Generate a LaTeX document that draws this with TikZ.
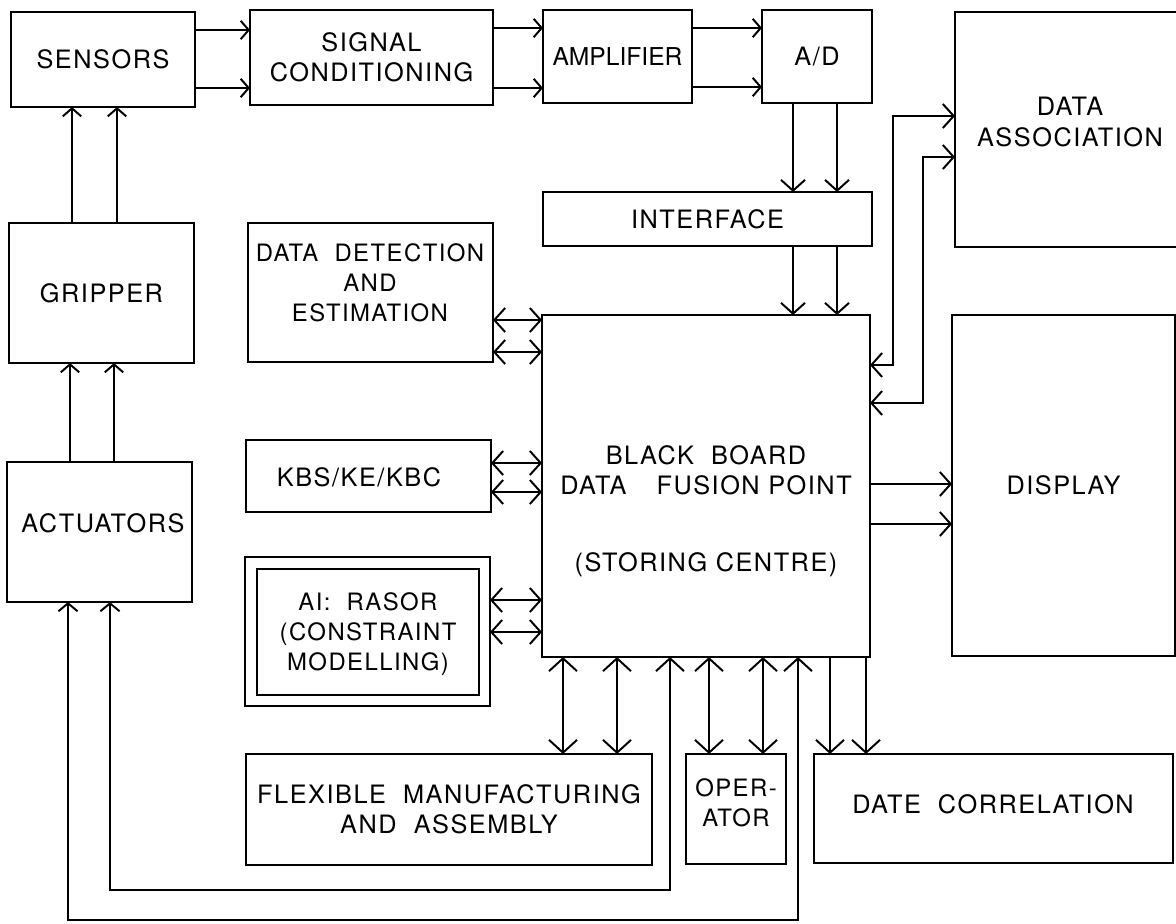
\documentclass[tikz,border=0pt]{standalone}
\usepackage{fontspec}
\setmainfont{TeX Gyre Heros}[LetterSpace=6]
\usetikzlibrary{arrows.meta}
\newcommand{\dfont}{\fontsize{18pt}{21.5pt}\selectfont}
\newcommand{\sfnt}{\fontsize{17pt}{21.5pt}\selectfont}
\newcommand{\afnt}{\fontsize{17.5pt}{21.5pt}\selectfont\addfontfeature{LetterSpace=0}}
\begin{document}
\begin{tikzpicture}[x=0.025cm,y=-0.025cm,
  boxat/.style n args={4}{minimum width={(#3-#1)*0.025cm}, minimum height={(#4-#2)*0.025cm}, at={({(#1+#3)/2},{(#2+#4)/2})}},
  box/.style={draw, line width=1.9pt, inner sep=0pt, outer sep=0pt, align=center, font=\dfont},
  txt/.style={inner sep=0pt, align=center, font=\dfont},
  ln/.style={line width=1.4pt},
  aS/.style={ln, -{Straight Barb[length=2mm,width=4.6mm]}},
  aM/.style={ln, -{Straight Barb[length=2.7mm,width=6mm]}},
  aMb/.style={ln, {Straight Barb[length=2.7mm,width=6mm]}-{Straight Barb[length=2.7mm,width=6mm]}},
  aL/.style={ln, -{Straight Barb[length=3.2mm,width=7mm]}},
  aLb/.style={ln, {Straight Barb[length=3.2mm,width=7mm]}-{Straight Barb[length=3.2mm,width=7mm]}},
  fb/.style={ln, {Straight Barb[length=3.2mm,width=7mm]}-{Straight Barb[length=2mm,width=4.8mm]}}
]
\useasboundingbox (0,0) rectangle (1176,923);
% boxes
\node[box, boxat={11}{12}{195}{107}] (sensors) {SENSORS};
\node[box, boxat={250}{10}{493}{105}] (sig) {SIGNAL\\CONDITIONING};
\node[box, boxat={543}{10}{692}{103}, font=\afnt] (amp) {AMPLIFIER};
\node[box, boxat={762}{10}{872}{103}] (ad) {A/D};
\node[box, boxat={955}{12}{1190}{247}] (da) {};
\node[txt] (datxt) at (1070,122) {DATA\\ASSOCIATION};
\node[box, boxat={543}{192}{872}{246}] (iface) {INTERFACE};
\node[box, boxat={248}{223}{493}{362}] (dd) {};
\node[txt, font=\sfnt] (ddtxt) at (370,283) {DATA\ \ DETECTION\\AND\\ESTIMATION};
\node[box, boxat={9}{223}{194}{363}] (grip) {GRIPPER};
\node[box, boxat={7}{462}{192}{602}] (act) {};
\node[txt] (acttxt) at (103,523) {ACTUATORS};
\node[box, boxat={246}{440}{491}{512}] (kbs) {};
\node[txt] (kbstxt) at (359,477) {KBS/KE/KBC};
\node[box, boxat={245}{557}{490}{706}] (ai) {};
\node[box, boxat={257}{569}{479}{695}] (aiin) {};
\node[txt, font=\sfnt] (aitxt) at (368,634) {AI:\ \ RASOR\\(CONSTRAINT\\MODELLING)};
\node[box, boxat={542}{315}{870}{657}] (bb) {};
\node[txt] (bbtxt) at (706,511) {BLACK\ \ BOARD\\DATA\hspace{0.75cm}FUSION POINT\\[33pt](STORING\ CENTRE)};
\node[box, boxat={952}{315}{1175}{656}] (disp) {DISPLAY};
\node[box, boxat={246}{754}{652}{865}] (flex) {FLEXIBLE\ \ MANUFACTURING\\AND\ \ ASSEMBLY};
\node[box, boxat={686}{754}{786}{864}] (op) {};
\node[txt, font=\sfnt] (optxt) at (736,803) {OPER-\\ATOR};
\node[box, boxat={814}{754}{1173}{863}] (dc) {};
\node[txt] (dctxt) at (993,804) {DATE\ \ CORRELATION};
% top row
\draw[aS] (sensors.east |- 0,30) -- (sig.west |- 0,30);
\draw[aS] (sensors.east |- 0,88) -- (sig.west |- 0,88);
\draw[aS] (sig.east |- 0,28) -- (amp.west |- 0,28);
\draw[aS] (sig.east |- 0,88) -- (amp.west |- 0,88);
\draw[aS] (amp.east |- 0,28) -- (ad.west |- 0,28);
\draw[aS] (amp.east |- 0,87) -- (ad.west |- 0,87);
% A/D -> interface -> blackboard
\foreach \x in {793,837} {
  \draw[aM] (ad.south -| \x,0) -- (iface.north -| \x,0);
  \draw[aM] (iface.south -| \x,0) -- (bb.north -| \x,0);
}
% blackboard <-> data association
\draw[aMb] (bb.east |- 0,365) -| (893,116) -- (da.west |- 0,116);
\draw[aMb] (bb.east |- 0,403) -| (923,157) -- (da.west |- 0,157);
% blackboard -> display
\draw[aM] (bb.east |- 0,484) -- (disp.west |- 0,484);
\draw[aM] (bb.east |- 0,524) -- (disp.west |- 0,524);
% left side modules
\foreach \y in {320,352} \draw[aMb] (dd.east |- 0,\y) -- (bb.west |- 0,\y);
\foreach \y in {463,492} \draw[aMb] (kbs.east |- 0,\y) -- (bb.west |- 0,\y);
\foreach \y in {600,632} \draw[aMb] (ai.east |- 0,\y) -- (bb.west |- 0,\y);
% left column
\foreach \x in {72,117} \draw[aS] (grip.north -| \x,0) -- (sensors.south -| \x,0);
\foreach \x in {70,114} \draw[aS] (act.north -| \x,0) -- (grip.south -| \x,0);
% bottom
\foreach \x in {563,617} \draw[aLb] (bb.south -| \x,0) -- (flex.north -| \x,0);
\foreach \x in {709,763} \draw[aLb] (bb.south -| \x,0) -- (op.north -| \x,0);
\foreach \x in {830,866} \draw[aL] (bb.south -| \x,0) -- (dc.north -| \x,0);
\draw[fb] (bb.south -| 670,0) |- (110,890) -- (act.south -| 110,0);
\draw[fb] (bb.south -| 798,0) |- (68,920) -- (act.south -| 68,0);
\end{tikzpicture}
\end{document}
